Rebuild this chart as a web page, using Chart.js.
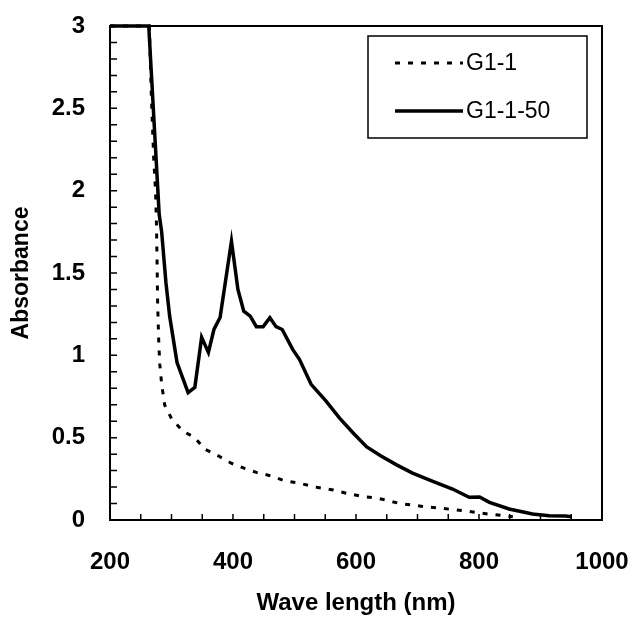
<!DOCTYPE html>
<html>
<head>
<meta charset="utf-8">
<script src="https://cdn.jsdelivr.net/npm/chart.js@4/dist/chart.umd.min.js"></script>
<style>
html,body{margin:0;padding:0;background:#fff;}
#wrap{width:633px;height:618px;}
</style>
</head>
<body>
<div id="wrap"><canvas id="c" width="633" height="618"></canvas></div>
<script>
// ---- data ----
const seriesNames = ["G1-1", "G1-1-50"];

const g1Wave = [200, 264, 267, 269, 271, 274, 275.5, 276.5, 277, 277.5, 278.5, 279.5, 281, 284, 289, 300, 318, 338, 354, 376, 397, 419, 438, 462, 484, 508, 536, 563, 585, 606, 634, 650, 671, 703, 736, 779, 817, 844, 855];
const g1Abs  = [3.0, 3.0, 2.6, 2.4, 2.2, 2.0, 1.8, 1.58, 1.44, 1.31, 1.18, 1.06, 0.945, 0.824, 0.697, 0.616, 0.541, 0.50, 0.43, 0.39, 0.345, 0.313, 0.289, 0.268, 0.238, 0.223, 0.199, 0.182, 0.162, 0.146, 0.132, 0.12, 0.10, 0.085, 0.072, 0.055, 0.035, 0.025, 0.02];

const g50Wave = [200, 263, 280, 284, 291, 297, 309, 327, 338, 349, 360, 369, 379, 397.5, 408, 417.5, 428, 438, 449, 460, 470, 480, 497, 508, 527, 551, 573, 595, 617, 640, 666, 692, 725, 757, 784, 801, 817, 849, 887, 914, 941, 950];
const g50Abs  = [3.0, 3.0, 1.855, 1.75, 1.44, 1.238, 0.956, 0.774, 0.806, 1.109, 1.018, 1.157, 1.23, 1.693, 1.4, 1.268, 1.238, 1.174, 1.174, 1.228, 1.174, 1.157, 1.036, 0.976, 0.824, 0.723, 0.62, 0.53, 0.445, 0.39, 0.335, 0.285, 0.235, 0.188, 0.138, 0.14, 0.107, 0.067, 0.036, 0.026, 0.024, 0.02];

const xLabelValues = [200, 400, 600, 800, 1000];
const yLabelValues = [0, 0.5, 1, 1.5, 2, 2.5, 3];

const toPts = (xs, ys) => xs.map((x, i) => ({x: x, y: ys[i]}));
const isIn = (v, arr) => arr.some(a => Math.abs(a - v) < 1e-6);

const FONT = "'Liberation Sans', Arial, sans-serif";

const frameAndTicks = {
  id: 'frameAndTicks',
  afterDraw(chart) {
    const {ctx, chartArea: a, scales} = chart;
    ctx.save();
    ctx.strokeStyle = '#000';
    ctx.lineWidth = 1.5;
    // inward tick marks
    ctx.beginPath();
    scales.x.ticks.forEach(t => {
      const px = scales.x.getPixelForValue(t.value);
      if (px <= a.left + 1 || px >= a.right - 1) return;
      ctx.moveTo(px, a.bottom);
      ctx.lineTo(px, a.bottom - 6);
    });
    scales.y.ticks.forEach(t => {
      const py = scales.y.getPixelForValue(t.value);
      if (py <= a.top + 1 || py >= a.bottom - 1) return;
      ctx.moveTo(a.left, py);
      ctx.lineTo(a.left + 7, py);
    });
    ctx.stroke();
    // frame
    ctx.lineWidth = 2;
    ctx.strokeRect(a.left, a.top, a.right - a.left, a.bottom - a.top);
    // legend box
    const lx = 368, ly = 36, lw = 219, lh = 102;
    ctx.lineWidth = 1.5;
    ctx.strokeRect(lx, ly, lw, lh);
    const rows = [63, 111];
    chart.data.datasets.forEach((ds, i) => {
      ctx.beginPath();
      ctx.lineWidth = ds.borderWidth;
      ctx.setLineDash(ds.borderDash || []);
      ctx.moveTo(395, rows[i]);
      ctx.lineTo(463, rows[i]);
      ctx.stroke();
      ctx.setLineDash([]);
      ctx.fillStyle = '#000';
      ctx.font = "23px " + FONT;
      ctx.textBaseline = 'middle';
      ctx.textAlign = 'left';
      ctx.fillText(ds.label, 466, rows[i] + 1);
    });
    ctx.restore();
  }
};

new Chart(document.getElementById('c'), {
  type: 'scatter',
  data: {
    datasets: [
      {
        label: seriesNames[0],
        data: toPts(g1Wave, g1Abs),
        showLine: true,
        borderColor: '#000',
        borderWidth: 3,
        borderDash: [5, 8],
        pointRadius: 0,
        tension: 0,
        clip: 4
      },
      {
        label: seriesNames[1],
        data: toPts(g50Wave, g50Abs),
        showLine: true,
        borderColor: '#000',
        borderWidth: 3.5,
        pointRadius: 0,
        tension: 0,
        clip: 4
      }
    ]
  },
  options: {
    responsive: false,
    animation: false,
    devicePixelRatio: 1,
    layout: {padding: {top: 26, right: 31, left: 0, bottom: 0}},
    plugins: {legend: {display: false}, tooltip: {enabled: false}},
    scales: {
      x: {
        type: 'linear',
        min: 200, max: 1000,
        afterFit(s) { s.height = 98; s.paddingLeft = 0; s.paddingRight = 0; },
        border: {display: false},
        grid: {display: false, drawTicks: false},
        ticks: {
          stepSize: 50, autoSkip: false, maxRotation: 0,
          padding: 28, color: '#000',
          font: {family: FONT, size: 24, weight: 'bold'},
          callback: v => isIn(v, xLabelValues) ? String(v) : ''
        },
        title: {
          display: true, text: 'Wave length (nm)', color: '#000',
          font: {family: FONT, size: 24, weight: 'bold'},
          padding: {top: 0, bottom: 0}
        }
      },
      y: {
        type: 'linear',
        min: 0, max: 3,
        afterFit(s) { s.width = 110; s.paddingTop = 0; s.paddingBottom = 0; },
        border: {display: false},
        grid: {display: false, drawTicks: false},
        ticks: {
          stepSize: 0.1, autoSkip: false,
          padding: 25, color: '#000',
          font: {family: FONT, size: 24, weight: 'bold'},
          callback: v => isIn(v, yLabelValues) ? String(Math.round(v * 10) / 10) : ''
        },
        title: {
          display: true, text: 'Absorbance', color: '#000',
          font: {family: FONT, size: 23, weight: 'bold'},
          padding: {top: 8, bottom: 0}
        }
      }
    }
  },
  plugins: [frameAndTicks]
});
</script>
</body>
</html>
